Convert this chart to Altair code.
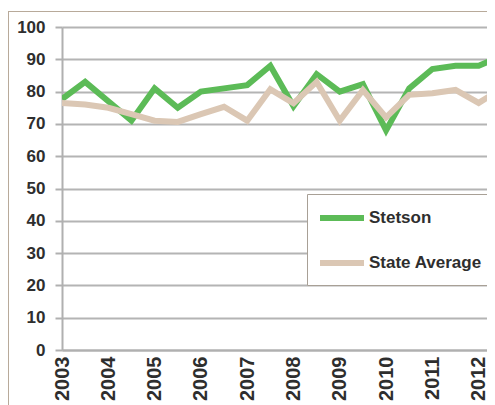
import altair as alt
import pandas as pd

periods = [2003, 2003.5, 2004, 2004.5, 2005, 2005.5, 2006, 2006.5, 2007, 2007.5,
           2008, 2008.5, 2009, 2009.5, 2010, 2010.5, 2011, 2011.5, 2012, 2012.5]
stetson = [77.7, 83, 77, 71, 81, 75, 80, 81, 82, 88,
           75.5, 85.4, 80, 82.3, 68, 81, 87, 88, 88, 91]
state_avg = [76.5, 76, 75, 73, 71, 70.6, 73, 75.3, 71, 80.7,
             76.4, 83, 71, 80.5, 72, 79, 79.5, 80.5, 76.5, 81]
series_names = ["Stetson", "State Average"]
series_colors = ["#5cbb57", "#dbc7b4"]
year_ticks = list(range(2003, 2013))
y_ticks = list(range(0, 101, 10))

df = pd.DataFrame({"period": periods, "Stetson": stetson, "State Average": state_avg})
long = df.melt(id_vars="period", var_name="series", value_name="value")

FONT = "Liberation Sans"
TXT = "#2e2e2e"

lines = alt.Chart(long).mark_line(strokeWidth=6, clip=True, strokeJoin="miter").encode(
    x=alt.X("period:Q",
            scale=alt.Scale(domain=[2003, 2012.18], nice=False, zero=False),
            axis=alt.Axis(values=year_ticks, format="d", labelAngle=270, labelAlign="right",
                          labelBaseline="middle", ticks=False, grid=False, labelPadding=6,
                          labelFontSize=20, labelFont=FONT, labelColor=TXT, labelFontWeight="bold",
                          domainColor="#b0b0b0", domainWidth=2, title=None,
                          labelOverlap=False, labelFlush=False)),
    y=alt.Y("value:Q",
            scale=alt.Scale(domain=[0, 100], nice=False),
            axis=alt.Axis(values=y_ticks, tickSize=7, tickColor="#b0b0b0", tickWidth=2,
                          grid=True, gridColor="#b4b4b4", gridWidth=2,
                          domainColor="#b0b0b0", domainWidth=2,
                          labelFontSize=17, labelFont=FONT, labelColor=TXT, labelFontWeight="bold",
                          labelPadding=10, title=None)),
    color=alt.Color("series:N",
                    scale=alt.Scale(domain=series_names, range=series_colors),
                    sort=series_names,
                    legend=alt.Legend(orient="none", legendX=245, legendY=167, title=None,
                                      symbolType="M-1,0H3", symbolSize=484,
                                      symbolStrokeWidth=6, labelOffset=24,
                                      labelFontSize=17, labelFont=FONT, labelColor=TXT,
                                      labelFontWeight="bold",
                                      padding=10, rowPadding=19,
                                      strokeColor="#a8a096", fillColor="white")),
)

frame_left = alt.Chart(pd.DataFrame({"a": [0]})).mark_rule(
    color="#b8aa9a", strokeWidth=1, clip=False).encode(
    x=alt.value(-53.5), y=alt.value(-15), y2=alt.value(420))
frame_top = alt.Chart(pd.DataFrame({"a": [0]})).mark_rule(
    color="#b8aa9a", strokeWidth=1, clip=False).encode(
    x=alt.value(-54), x2=alt.value(440), y=alt.value(-15.5))

chart = alt.layer(lines, frame_left, frame_top).properties(
    width=425, height=323,
    padding={"left": 54, "top": 19, "right": 0, "bottom": 55},
    autosize=alt.AutoSizeParams(type="none"),
).configure_view(stroke=None)

chart.save("out.html", embed_options={"renderer": "svg", "actions": False})
